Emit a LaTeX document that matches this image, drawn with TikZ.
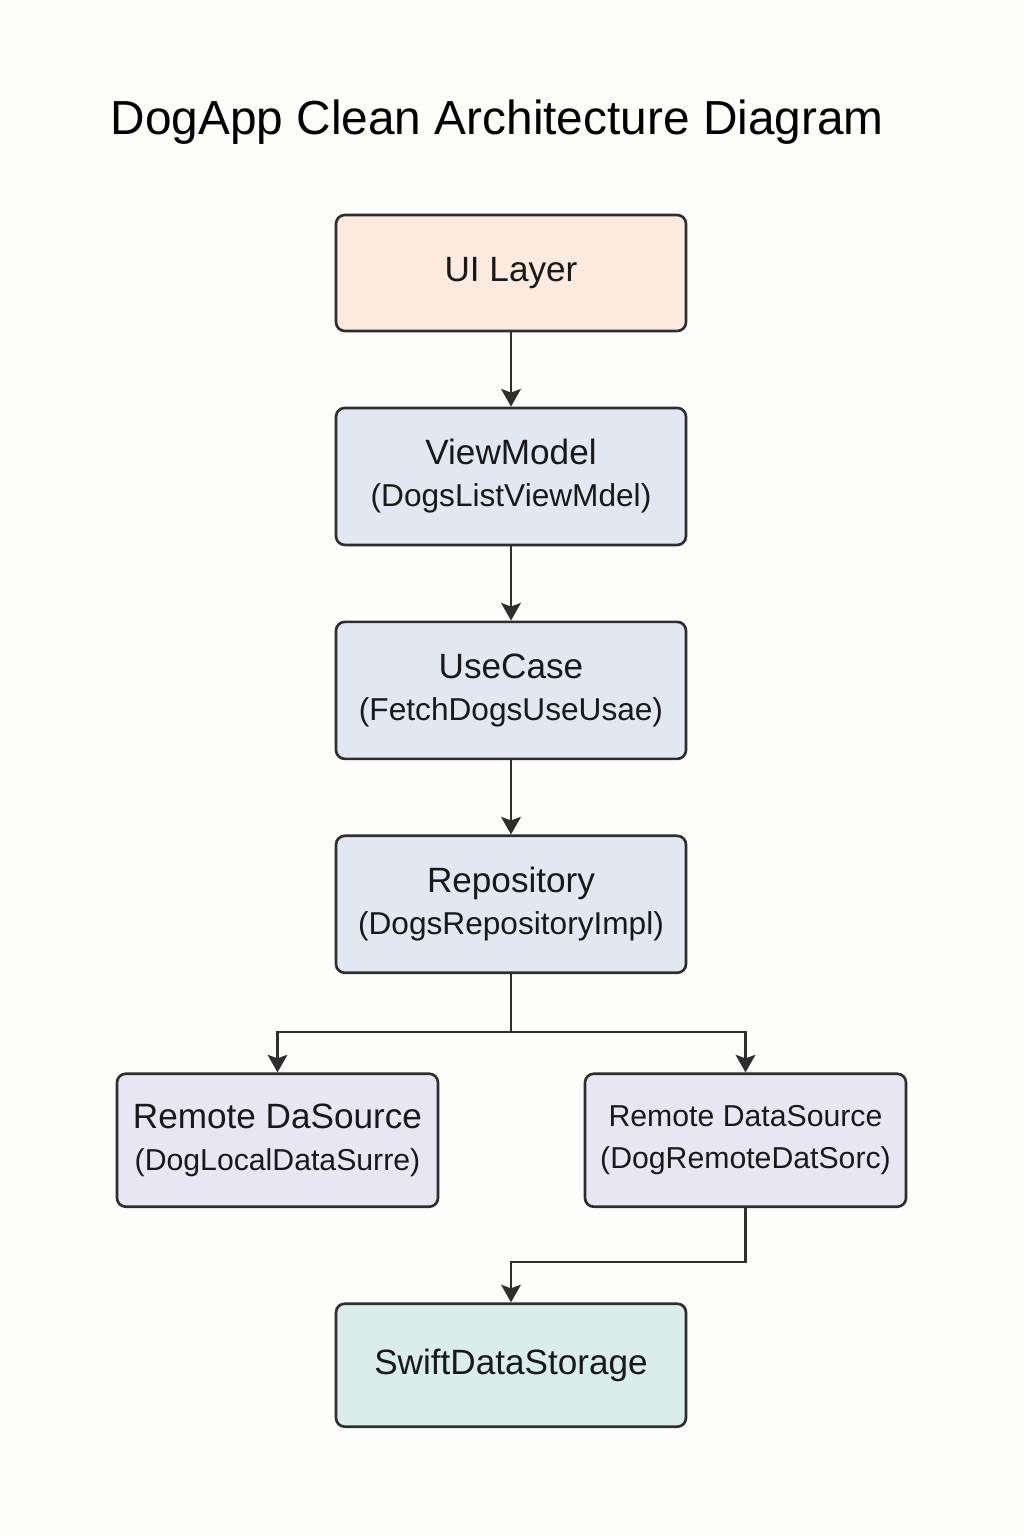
\documentclass[tikz,border=0pt]{standalone}
\usepackage{fontspec}
\setmainfont{Liberation Sans}
\usepackage{xcolor}
\usetikzlibrary{arrows.meta, positioning}
\definecolor{linegray}{HTML}{2E2E2E}
\definecolor{uipeach}{HTML}{FDEADF}
\definecolor{corebg}{HTML}{E2E8F1}
\definecolor{sourcebg}{HTML}{E8E6F2}
\definecolor{storebg}{HTML}{D9EEEA}
\definecolor{pagebg}{HTML}{FDFDFB}
\newcommand{\headline}[1]{{\fontsize{10}{12}\selectfont #1}}
\newcommand{\subline}[1]{{\fontsize{9}{12}\selectfont #1}}

\begin{document}
\begin{tikzpicture}[
    node distance=0.743cm,
    layerbox/.style={rectangle, rounded corners=2.5pt, draw=linegray, line width=0.75pt, fill=corebg, minimum width=3.5cm, minimum height=1.37cm, align=center, text=black!90, inner sep=2pt},
    sourcebox/.style={layerbox, fill=sourcebg, minimum width=3.21cm, minimum height=1.33cm},
    arrow/.style={-{Stealth[length=5pt, width=5.6pt, inset=1pt]}, line width=0.75pt, draw=linegray}
]

% page and margins
\fill[pagebg] (0,0) rectangle (10.24,-15.36);
\useasboundingbox (0,0) rectangle (10.24,-15.36);

\node[anchor=west, inner sep=0, font=\fontsize{13.6}{16}\selectfont] (title) at (1.10,-1.22) {DogApp Clean Architecture Diagram};

\node[layerbox, fill=uipeach, minimum height=1.16cm] (ui) at (5.11,-2.73) {\headline{UI Layer}};
\node[layerbox, below=of ui] (vm) {\headline{ViewModel}\\\subline{(DogsListViewMdel)}};
\node[layerbox, below=of vm] (uc) {\headline{UseCase}\\\subline{(FetchDogsUseUsae)}};
\node[layerbox, below=of uc] (repo) {\headline{Repository}\\\subline{(DogsRepositoryImpl)}};
\node[sourcebox, below=0.983cm of repo, xshift=-2.335cm] (dslocal) {\headline{Remote DaSource}\\{\fontsize{8.6}{12}\selectfont (DogLocalDataSurre)}};
\node[sourcebox, below=0.983cm of repo, xshift=2.345cm, font=\fontsize{8.6}{12}\selectfont] (dsremote) {Remote DataSource\\(DogRemoteDatSorc)};
\node[layerbox, fill=storebg, minimum height=1.23cm, below=0.943cm of dsremote, xshift=-2.345cm] (store) {\headline{SwiftDataStorage}};

\draw[arrow] (ui) -- (vm);
\draw[arrow] (vm) -- (uc);
\draw[arrow] (uc) -- (repo);
\draw[arrow] (repo.south) -- ++(0,-0.58) -| (dslocal.north);
\draw[arrow] (repo.south) -- ++(0,-0.58) -| (dsremote.north);
\draw[arrow] (dsremote.south) -- ++(0,-0.54) -| (store.north);

\end{tikzpicture}
\end{document}
